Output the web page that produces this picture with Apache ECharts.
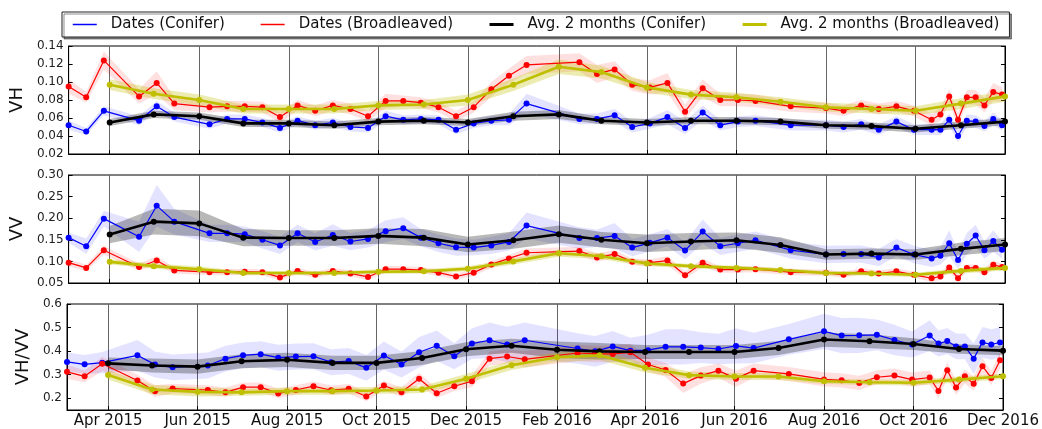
<!DOCTYPE html>
<html>
<head>
<meta charset="utf-8">
<script src="https://cdn.jsdelivr.net/npm/echarts@6/dist/echarts.min.js"></script>
<style>
html,body{margin:0;padding:0;background:#fff;}
#chart{width:1042px;height:429px;}
</style>
</head>
<body>
<div id="chart"></div>
<script>
// ---------- DATA ----------
const obsDates = ['2015-03-04','2015-03-16','2015-03-28','2015-04-21','2015-05-03','2015-05-15','2015-06-08','2015-06-20','2015-07-02','2015-07-14','2015-07-26','2015-08-07','2015-08-19','2015-08-31','2015-09-12','2015-09-24','2015-10-06','2015-10-18','2015-10-30','2015-11-11','2015-11-23','2015-12-05','2015-12-17','2015-12-29',
  '2016-01-10','2016-02-15','2016-02-27','2016-03-10','2016-03-22','2016-04-03','2016-04-15','2016-04-27','2016-05-09','2016-05-21','2016-06-02','2016-06-14','2016-07-08','2016-08-01','2016-08-13','2016-08-25','2016-09-06','2016-09-18','2016-09-30','2016-10-12','2016-10-18','2016-10-24','2016-10-30','2016-11-05','2016-11-11','2016-11-17','2016-11-23','2016-11-29'];
const avgDates = ['2015-04-01','2015-05-01','2015-06-01','2015-07-01','2015-08-01','2015-09-01','2015-10-01','2015-11-01','2015-12-01','2016-01-01','2016-02-01','2016-03-01','2016-04-01','2016-05-01','2016-06-01','2016-07-01','2016-08-01','2016-09-01','2016-10-01','2016-11-01','2016-12-01'];
const tickDates = ['2015-04-01','2015-06-01','2015-08-01','2015-10-01','2015-12-01','2016-02-01','2016-04-01','2016-06-01','2016-08-01','2016-10-01','2016-12-01'];
const xMinDate = '2015-03-04';
const xMaxDate = '2016-12-01';

// VH
const vhConifer = [0.052,0.045,0.068,0.057,0.073,0.061,0.053,0.059,0.059,0.055,0.049,0.057,0.052,0.055,0.050,0.049,0.062,0.058,0.059,0.058,0.047,0.054,0.057,0.058,
  0.076,0.059,0.059,0.063,0.050,0.054,0.061,0.049,0.066,0.052,0.056,0.057,0.052,0.052,0.050,0.053,0.047,0.056,0.047,0.047,0.047,0.058,0.040,0.057,0.056,0.051,0.059,0.052];
const vhBroad = [0.095,0.083,0.124,0.084,0.099,0.076,0.072,0.073,0.073,0.072,0.061,0.074,0.068,0.074,0.070,0.062,0.079,0.079,0.077,0.072,0.062,0.072,0.092,0.107,
  0.119,0.122,0.109,0.114,0.097,0.094,0.099,0.067,0.093,0.080,0.080,0.079,0.073,0.071,0.068,0.074,0.070,0.073,0.068,0.058,0.064,0.084,0.058,0.083,0.083,0.074,0.089,0.086];
const vhAvgConifer = [0.055,0.064,0.062,0.054,0.054,0.052,0.056,0.057,0.055,0.062,0.064,0.057,0.055,0.057,0.057,0.056,0.052,0.051,0.048,0.052,0.056];
const vhAvgBroad = [0.097,0.087,0.080,0.070,0.070,0.070,0.074,0.075,0.080,0.097,0.117,0.111,0.094,0.086,0.083,0.078,0.072,0.070,0.068,0.076,0.084];
const vhConiferSd = [0.005,0.004,0.005,0.005,0.006,0.005,0.005,0.005,0.005,0.005,0.005,0.005,0.005,0.005,0.005,0.005,0.006,0.005,0.005,0.005,0.005,0.005,0.005,0.006,
  0.011,0.006,0.006,0.007,0.006,0.006,0.008,0.007,0.008,0.006,0.006,0.006,0.006,0.006,0.006,0.006,0.006,0.006,0.006,0.006,0.006,0.007,0.007,0.007,0.007,0.006,0.007,0.006];
const vhBroadSd = [0.008,0.006,0.010,0.008,0.013,0.007,0.006,0.006,0.006,0.006,0.006,0.006,0.006,0.006,0.006,0.006,0.008,0.006,0.006,0.006,0.006,0.006,0.008,0.008,
  0.010,0.010,0.010,0.009,0.007,0.008,0.011,0.008,0.010,0.007,0.007,0.007,0.006,0.006,0.006,0.006,0.006,0.006,0.006,0.007,0.007,0.008,0.007,0.008,0.008,0.008,0.010,0.008];
const vhAvgConiferSd = [0.004,0.004,0.004,0.004,0.004,0.004,0.004,0.004,0.004,0.005,0.005,0.004,0.004,0.004,0.004,0.004,0.004,0.004,0.004,0.004,0.004];
const vhAvgBroadSd = [0.006,0.006,0.006,0.005,0.005,0.005,0.005,0.005,0.006,0.007,0.008,0.007,0.006,0.005,0.005,0.005,0.005,0.005,0.005,0.006,0.006];

// VV
const vvConifer = [0.155,0.135,0.199,0.157,0.229,0.192,0.165,0.165,0.163,0.150,0.137,0.165,0.145,0.161,0.146,0.152,0.170,0.177,0.155,0.142,0.133,0.132,0.137,0.145,
  0.183,0.154,0.154,0.159,0.132,0.143,0.155,0.125,0.169,0.135,0.142,0.149,0.126,0.116,0.117,0.117,0.109,0.132,0.116,0.107,0.113,0.142,0.103,0.141,0.160,0.126,0.147,0.127];
const vvBroad = [0.097,0.085,0.126,0.087,0.102,0.079,0.075,0.075,0.076,0.075,0.063,0.078,0.069,0.078,0.072,0.064,0.082,0.082,0.080,0.074,0.065,0.074,0.093,0.107,
  0.120,0.124,0.109,0.117,0.099,0.097,0.102,0.068,0.097,0.081,0.081,0.082,0.075,0.074,0.069,0.077,0.072,0.077,0.069,0.061,0.065,0.086,0.061,0.085,0.085,0.075,0.092,0.087];
const vvAvgConifer = [0.162,0.192,0.188,0.155,0.154,0.154,0.159,0.155,0.139,0.149,0.163,0.150,0.142,0.146,0.149,0.138,0.116,0.118,0.116,0.129,0.139];
const vvAvgBroad = [0.099,0.089,0.082,0.073,0.073,0.073,0.076,0.077,0.083,0.100,0.119,0.112,0.095,0.089,0.085,0.080,0.073,0.072,0.069,0.078,0.085];
const vvConiferSd = [0.012,0.018,0.018,0.035,0.048,0.030,0.020,0.020,0.018,0.020,0.020,0.020,0.020,0.025,0.020,0.020,0.025,0.025,0.020,0.020,0.020,0.018,0.020,0.020,
  0.030,0.025,0.020,0.030,0.020,0.020,0.020,0.020,0.028,0.020,0.020,0.020,0.020,0.020,0.020,0.020,0.020,0.020,0.020,0.020,0.020,0.030,0.020,0.025,0.025,0.020,0.025,0.020];
const vvBroadSd = [0.008,0.007,0.010,0.008,0.010,0.007,0.007,0.007,0.007,0.007,0.007,0.007,0.007,0.007,0.007,0.007,0.008,0.007,0.007,0.007,0.007,0.007,0.008,0.008,
  0.010,0.010,0.010,0.009,0.008,0.008,0.010,0.009,0.010,0.007,0.007,0.007,0.007,0.007,0.007,0.007,0.007,0.007,0.007,0.008,0.008,0.009,0.008,0.008,0.008,0.008,0.010,0.008];
const vvAvgConiferSd = [0.020,0.030,0.030,0.020,0.018,0.018,0.018,0.020,0.018,0.020,0.020,0.018,0.020,0.020,0.018,0.018,0.012,0.012,0.012,0.015,0.015];
const vvAvgBroadSd = [0.006,0.006,0.006,0.005,0.005,0.005,0.005,0.005,0.006,0.007,0.008,0.007,0.006,0.005,0.005,0.005,0.005,0.005,0.005,0.006,0.006];

// VH/VV
const ratioConifer = [0.354,0.344,0.351,0.382,0.343,0.331,0.339,0.368,0.382,0.387,0.372,0.377,0.378,0.353,0.358,0.329,0.381,0.343,0.395,0.423,0.378,0.432,0.446,0.428,
  0.446,0.411,0.399,0.420,0.402,0.404,0.418,0.418,0.415,0.409,0.422,0.413,0.450,0.484,0.466,0.467,0.469,0.447,0.428,0.466,0.432,0.443,0.420,0.420,0.368,0.437,0.428,0.437];
const ratioBroad = [0.312,0.293,0.346,0.275,0.230,0.241,0.235,0.225,0.247,0.247,0.220,0.235,0.251,0.234,0.240,0.207,0.254,0.225,0.283,0.221,0.251,0.272,0.368,0.377,
  0.365,0.392,0.388,0.388,0.395,0.343,0.320,0.262,0.296,0.317,0.283,0.317,0.303,0.280,0.276,0.265,0.289,0.296,0.279,0.288,0.231,0.319,0.245,0.293,0.261,0.336,0.286,0.361];
const ratioAvgConifer = [0.348,0.339,0.334,0.357,0.363,0.350,0.350,0.371,0.408,0.423,0.406,0.399,0.396,0.396,0.396,0.413,0.449,0.442,0.430,0.409,0.402];
const ratioAvgBroad = [0.299,0.237,0.227,0.225,0.230,0.230,0.233,0.237,0.283,0.340,0.374,0.382,0.329,0.298,0.292,0.292,0.272,0.268,0.266,0.279,0.293];
const ratioConiferSd = [0.040,0.040,0.045,0.065,0.055,0.055,0.055,0.055,0.055,0.055,0.055,0.055,0.055,0.055,0.055,0.055,0.060,0.055,0.065,0.065,0.055,0.065,0.075,0.075,
  0.075,0.065,0.065,0.065,0.055,0.065,0.075,0.075,0.065,0.065,0.075,0.065,0.065,0.075,0.075,0.075,0.065,0.065,0.055,0.065,0.055,0.055,0.055,0.055,0.065,0.065,0.065,0.065];
const ratioBroadSd = [0.030,0.025,0.030,0.025,0.025,0.020,0.020,0.020,0.020,0.020,0.020,0.020,0.020,0.020,0.020,0.020,0.020,0.020,0.025,0.020,0.020,0.025,0.030,0.030,
  0.035,0.035,0.035,0.035,0.035,0.030,0.030,0.040,0.035,0.030,0.035,0.030,0.030,0.030,0.030,0.030,0.030,0.030,0.030,0.030,0.030,0.035,0.030,0.030,0.030,0.035,0.030,0.035];
const ratioAvgConiferSd = [0.025,0.030,0.030,0.030,0.030,0.030,0.030,0.030,0.030,0.030,0.035,0.035,0.030,0.030,0.030,0.030,0.030,0.030,0.025,0.020,0.020];
const ratioAvgBroadSd = [0.020,0.020,0.020,0.015,0.015,0.015,0.015,0.015,0.020,0.020,0.020,0.020,0.020,0.015,0.015,0.015,0.012,0.012,0.012,0.012,0.012];

const legendNames = ['Dates (Conifer)','Dates (Broadleaved)','Avg. 2 months (Conifer)','Avg. 2 months (Broadleaved)'];
const panelNames = ['VH','VV','VH/VV'];
const yMins = [0.02, 0.05, 0.15];
const yMaxs = [0.14, 0.30, 0.6];
const yTicks = [[0.02,0.04,0.06,0.08,0.10,0.12,0.14],[0.05,0.10,0.15,0.20,0.25,0.30],[0.2,0.3,0.4,0.5,0.6]];
const monthNames = ['Jan','Feb','Mar','Apr','May','Jun','Jul','Aug','Sep','Oct','Nov','Dec'];

// ---------- BUILD ----------
const t = s => Date.parse(s + 'T00:00:00Z');
const FONT = 'DejaVu Sans';
const C_BLUE = '#0000ff', C_RED = '#ff0000', C_BLACK = '#000000', C_YEL = '#bfbf00';
const B_BLUE = 'rgba(0,0,255,0.11)', B_RED = 'rgba(255,0,0,0.12)', B_BLACK = 'rgba(0,0,0,0.28)', B_YEL = 'rgba(191,191,0,0.30)';

const grids = [
  {left: 67, right: 37, top: 46, height: 108},
  {left: 67, right: 37, top: 175, height: 108},
  {left: 67, right: 37, top: 304, height: 107}
];

const series = [];
function band(gi, dates, vals, sd, color) {
  const pts = dates.map((d, i) => [t(d), vals[i] - sd[i], vals[i] + sd[i]]);
  series.push({
    type: 'custom', xAxisIndex: gi, yAxisIndex: gi * 2, silent: true, z: 1,
    data: pts,
    encode: {x: 0, y: [1, 2]},
    renderItem: (params, api) => {
      if (params.dataIndex !== 0) return null;
      const upper = pts.map(p => api.coord([p[0], p[2]]));
      const lower = pts.map(p => api.coord([p[0], p[1]])).reverse();
      return {type: 'polygon', shape: {points: upper.concat(lower)}, style: {fill: color}};
    }
  });
}
function line(gi, name, dates, vals, color, width, z) {
  series.push({
    type: 'line', name: name, xAxisIndex: gi, yAxisIndex: gi * 2,
    data: dates.map((d, i) => [t(d), vals[i]]),
    symbol: 'circle', symbolSize: 6, showSymbol: true,
    lineStyle: {color: color, width: width}, itemStyle: {color: color}, z: z
  });
}
const panels = [
  [vhConifer, vhBroad, vhAvgConifer, vhAvgBroad, vhConiferSd, vhBroadSd, vhAvgConiferSd, vhAvgBroadSd],
  [vvConifer, vvBroad, vvAvgConifer, vvAvgBroad, vvConiferSd, vvBroadSd, vvAvgConiferSd, vvAvgBroadSd],
  [ratioConifer, ratioBroad, ratioAvgConifer, ratioAvgBroad, ratioConiferSd, ratioBroadSd, ratioAvgConiferSd, ratioAvgBroadSd]
];
panels.forEach((p, gi) => {
  band(gi, obsDates, p[0], p[4], B_BLUE);
  band(gi, obsDates, p[1], p[5], B_RED);
  band(gi, avgDates, p[2], p[6], B_BLACK);
  band(gi, avgDates, p[3], p[7], B_YEL);
  line(gi, legendNames[0], obsDates, p[0], C_BLUE, 1.2, 3);
  line(gi, legendNames[1], obsDates, p[1], C_RED, 1.2, 3);
  line(gi, legendNames[2], avgDates, p[2], C_BLACK, 2.6, 4);
  line(gi, legendNames[3], avgDates, p[3], C_YEL, 2.6, 4);
});

const tickVals = tickDates.map(t);
const xAxes = grids.map((g, gi) => ({
  type: 'value', gridIndex: gi, min: t(xMinDate), max: t(xMaxDate), scale: true,
  axisLine: {show: true, lineStyle: {color: '#000', width: 1}},
  axisTick: {show: true, inside: true, length: 4, customValues: tickVals, lineStyle: {color: '#000'}},
  splitLine: {show: true, lineStyle: {color: '#666', width: 1, type: 'solid'}},
  axisLabel: {
    show: gi === 2, customValues: tickVals, margin: 4, fontFamily: FONT, fontSize: 15, color: '#111',
    hideOverlap: false, showMinLabel: true, showMaxLabel: true,
    formatter: v => { const d = new Date(v); return monthNames[d.getUTCMonth()] + ' ' + d.getUTCFullYear(); }
  }
}));
const yAxes = [];
grids.forEach((g, gi) => {
  const dec = gi === 2 ? 1 : 2;
  yAxes.push({
    type: 'value', gridIndex: gi, position: 'left', min: yMins[gi], max: yMaxs[gi],
    name: panelNames[gi], nameLocation: 'middle', nameRotate: 90, nameGap: gi === 2 ? 19 : 30,
    nameTextStyle: {fontFamily: FONT, fontSize: 18, color: '#111'},
    axisLine: {show: true, lineStyle: {color: '#000'}},
    axisTick: {show: true, inside: true, length: 4, customValues: yTicks[gi], lineStyle: {color: '#000'}},
    splitLine: {show: false},
    axisLabel: {customValues: yTicks[gi], margin: 5, fontFamily: FONT, fontSize: 12, color: '#222',
      showMinLabel: true, showMaxLabel: true, formatter: v => v.toFixed(dec)}
  });
  yAxes.push({
    type: 'value', gridIndex: gi, position: 'right', min: yMins[gi], max: yMaxs[gi],
    axisLine: {show: true, lineStyle: {color: '#000'}},
    axisTick: {show: true, inside: true, length: 4, customValues: yTicks[gi], lineStyle: {color: '#000'}},
    splitLine: {show: false},
    axisLabel: {show: false}
  });
});

const chart = echarts.init(document.getElementById('chart'), null, {renderer: 'canvas'});
chart.setOption({
  animation: false,
  backgroundColor: '#ffffff',
  grid: grids.map(g => Object.assign({show: true, borderColor: '#000', borderWidth: 1, backgroundColor: 'transparent'}, g)),
  legend: {
    left: 62, top: 12, orient: 'horizontal',
    padding: [5, 10, 5, 10],
    itemGap: 35, itemWidth: 24, itemHeight: 14,
    borderColor: '#222', borderWidth: 1, backgroundColor: '#fff',
    shadowColor: 'rgba(0,0,0,0.45)', shadowOffsetX: 2, shadowOffsetY: 2, shadowBlur: 0,
    textStyle: {fontFamily: FONT, fontSize: 15, color: '#111', padding: [0, 0, 0, 9]},
    itemStyle: {opacity: 0},
    data: [
      {name: legendNames[0], lineStyle: {width: 1.5}},
      {name: legendNames[1], lineStyle: {width: 1.5}},
      {name: legendNames[2], lineStyle: {width: 3}},
      {name: legendNames[3], lineStyle: {width: 3}}
    ]
  },
  xAxis: xAxes,
  yAxis: yAxes,
  series: series
});
</script>
</body>
</html>
